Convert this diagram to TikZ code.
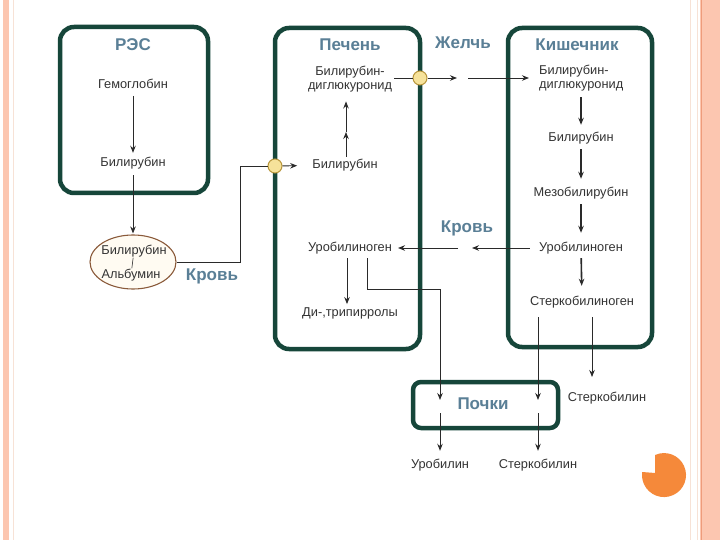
\documentclass[tikz,border=0pt]{standalone}
\usepackage{fontspec}
\setmainfont{Liberation Sans}
\usetikzlibrary{arrows.meta,shapes.geometric}
\definecolor{boxgreen}{HTML}{16463A}
\definecolor{ttlblue}{HTML}{5A7F96}
\definecolor{txtgray}{HTML}{333333}
\definecolor{linegray}{HTML}{2A2A2A}
\definecolor{juncfill}{HTML}{F6E29A}
\definecolor{juncedge}{HTML}{B8963C}
\definecolor{ellbrown}{HTML}{8A5A3A}
\definecolor{ellfill}{HTML}{FFFBF2}
\definecolor{salmon}{HTML}{FCC6B0}
\definecolor{salmondark}{HTML}{EE9C7C}
\definecolor{palepink}{HTML}{F7E2D6}
\definecolor{orng}{HTML}{F5893A}
\tikzset{
  lbl/.style={font=\fontsize{12.8}{14.5}\selectfont, text=txtgray, inner sep=2pt},
  ttl/.style={font=\fontsize{17}{20}\selectfont\bfseries, text=ttlblue, inner sep=1pt},
  organ/.style={draw=boxgreen, line width=4.5pt, rounded corners=14pt},
  conn/.style={draw=linegray, line width=0.9pt},
  arr/.style={conn, -{Stealth[length=7pt,width=5.5pt]}},
  arrthick/.style={arr, line width=1.6pt},
  junc/.style={circle, draw=juncedge, fill=juncfill, line width=1pt, minimum size=14pt, inner sep=0pt},
}
\begin{document}
\begin{tikzpicture}[x=1pt,y=-1pt]
\useasboundingbox (0,0) rectangle (720,540);
\fill[white] (0,0) rectangle (720,540);
% page decoration
\fill[salmon] (3,0) rectangle (9,540);
\draw[palepink, line width=0.8pt] (13,0) -- (13,540);
\draw[palepink, line width=1pt] (690,0) -- (690,540);
\draw[palepink, line width=1pt] (697,0) -- (697,540);
\fill[salmon] (700,0) rectangle (720,540);
\draw[salmondark, line width=0.8pt] (701.5,0) -- (701.5,540);
\fill[orng] (655,473) -- (655,455) arc[start angle=-114.2, end angle=188, radius=22] -- cycle;

% organ boxes
\draw[organ] (60,27) rectangle (208,193);
\draw[organ] (275,28) rectangle (420,349);
\draw[organ] (508,28) rectangle (652,347);
\draw[organ, rounded corners=8pt] (413,382) rectangle (558,428);

% titles
\node[ttl] (res) at (133,45) {РЭС};
\node[ttl] (pech) at (350,45) {Печень};
\node[ttl] (zhel) at (463,43) {Желчь};
\node[ttl] (kish) at (577,45) {Кишечник};
\node[ttl] (krov1) at (212,276) {Кровь};
\node[ttl] (krov2) at (467,228) {Кровь};
\node[ttl] (poch) at (483,404) {Почки};

% RES
\node[lbl] (gem) at (133,84) {Гемоглобин};
\node[lbl] (bil1) at (133,163) {Билирубин};
\node[ellipse, draw=ellbrown, fill=ellfill, line width=1.1pt, minimum width=86pt, minimum height=54pt, inner sep=0pt] (alb) at (133,262) {};
\node[lbl, inner sep=0.5pt] (albA) at (134,251) {Билирубин};
\node[lbl, inner sep=0.5pt] (albB) at (131,275) {Альбумин};
\draw[conn, line width=0.6pt] (albA) -- (albB);

% liver
\node[lbl, align=center] (bdg1) at (350,79) {Билирубин-\\диглюкуронид};
\node[lbl] (bil2) at (345,165) {Билирубин};
\node[lbl] (uro1) at (350,248) {Уробилиноген};
\node[lbl] (ditri) at (350,313) {Ди-,трипирролы};
\node[junc] (j1) at (275,166) {};
\node[junc] (j2) at (420,78) {};

% intestine
\node[lbl, align=left, anchor=west] (bdg2) at (537,78) {Билирубин-\\диглюкуронид};
\node[lbl] (bil3) at (581,138) {Билирубин};
\node[lbl] (mezo) at (581,193) {Мезобилирубин};
\node[lbl] (uro2) at (581,248) {Уробилиноген};
\node[lbl] (sterko) at (582,302) {Стеркобилиноген};

% outputs
\node[lbl] (urobl) at (440,465) {Уробилин};
\node[lbl] (sterb1) at (538,465) {Стеркобилин};
\node[lbl] (sterb2) at (607,398) {Стеркобилин};

% coordinates
\coordinate (bend1) at (240,166);
\coordinate (pm) at (346,132);
\coordinate (g1) at (457,78);
\coordinate (g2) at (468,78);
\coordinate (b1) at (472,248);
\coordinate (b2) at (458,248);
\coordinate (u1) at (367,289);
\coordinate (u2) at (440,289);
\coordinate (k1) at (440,400);
\coordinate (k2) at (440,413);
\coordinate (s1) at (538,400);
\coordinate (s2) at (538,413);
\coordinate (s3) at (592,377);

% connectors RES
\draw[arr, shorten <=5pt, shorten >=2pt] (gem) -- (bil1);
\draw[arr, shorten <=4pt, shorten >=1pt] (bil1) -- (alb);
\draw[conn] (alb.east) -| (bend1) -- (j1);
\draw[arr, shorten >=13pt] (j1) -- (bil2);

% liver
\draw[arr] (bil2.north -| pm) -- (pm);
\draw[arr, shorten >=7pt] (pm) -- (pm |- bdg1.south);
\draw[conn] (bdg1.east |- j2) -- (j2);
\draw[arr] (j2) -- (g1);
\draw[arr, shorten >=8pt] (g2) -- (bdg2.west |- g2);

% intestine
\draw[arrthick, shorten <=4pt, shorten >=5pt] (bdg2.south -| bil3) -- (bil3);
\draw[arrthick, shorten <=3pt, shorten >=6pt] (bil3) -- (mezo);
\draw[arrthick, shorten <=3pt, shorten >=7pt] (mezo) -- (uro2);
\draw[arrthick, shorten <=2pt, shorten >=8pt] (uro2) -- (sterko);

% blood back to liver
\draw[arr, shorten <=7pt] (uro2.west) -- (b1);
\draw[arr, shorten >=4pt] (b2) -- (uro1);
\draw[arr, shorten <=2pt, shorten >=1pt] ([xshift=-3pt]uro1.south) -- ([xshift=-3pt]ditri.north);
\draw[arr, shorten <=2pt] (uro1.south -| u1) -- (u1) -- (u2) -- (k1);
\draw[arr, shorten >=6pt] (k2) -- (urobl);

% sterco
\draw[arr, shorten <=7pt] (sterko.south -| s1) -- (s1);
\draw[arr, shorten >=6pt] (s2) -- (sterb1);
\draw[arr, shorten <=7pt] (sterko.south -| s3) -- (s3);
\end{tikzpicture}
\end{document}
